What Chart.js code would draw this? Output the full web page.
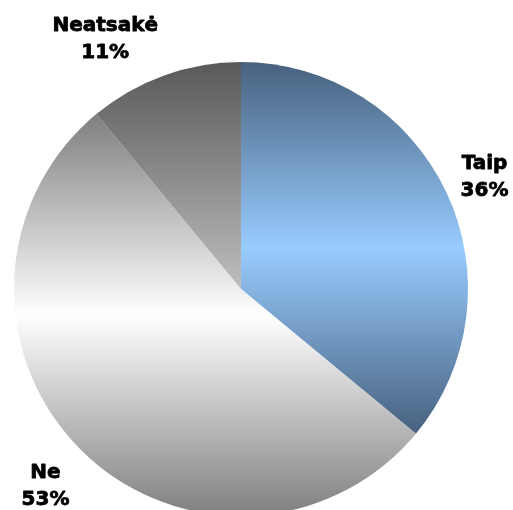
<!DOCTYPE html>
<html>
<head>
<meta charset="utf-8">
<script src="https://cdn.jsdelivr.net/npm/chart.js@4"></script>
<style>
  html, body { margin: 0; padding: 0; overflow: hidden; background: #fff; }
  #wrap { position: relative; width: 513px; height: 530px; }
</style>
</head>
<body>
<div id="wrap"><canvas id="pie"></canvas></div>
<script>
const labels = ["Taip", "Ne", "Neatsakė"];
const values = [36, 53, 11];

// top / middle / bottom shade of each slice's vertical gradient
const sliceShades = [
  ["#47617e", "#99ccff", "#47617e"],
  ["#7f7f7f", "#ffffff", "#7f7f7f"],
  ["#595959", "#8b8b8b", "#bebebe"],
];
// small nudges for the outside labels
const labelNudge = [[1, 1], [-6, 6], [-45, 1]];

// vertical extent of slice i inside the chart area
function sliceExtent(area, i) {
  const cx = (area.left + area.right) / 2;
  const cy = (area.top + area.bottom) / 2;
  const r = Math.min(area.right - area.left, area.bottom - area.top) / 2;
  const total = values.reduce((a, b) => a + b, 0);
  let a0 = -Math.PI / 2;
  for (let k = 0; k < i; k++) a0 += (values[k] / total) * 2 * Math.PI;
  const a1 = a0 + (values[i] / total) * 2 * Math.PI;
  const ys = [cy, cy + r * Math.sin(a0), cy + r * Math.sin(a1)];
  [-Math.PI / 2, Math.PI / 2, (3 * Math.PI) / 2].forEach((a) => {
    if (a > a0 && a < a1) ys.push(cy + r * Math.sin(a));
  });
  return [Math.min(...ys), Math.max(...ys)];
}

function sliceFill(context) {
  const chart = context.chart;
  const area = chart.chartArea;
  const i = context.dataIndex;
  if (!area) return sliceShades[i][1];
  const [y0, y1] = sliceExtent(area, i);
  const g = chart.ctx.createLinearGradient(0, y0, 0, y1);
  g.addColorStop(0, sliceShades[i][0]);
  g.addColorStop(0.5, sliceShades[i][1]);
  g.addColorStop(1, sliceShades[i][2]);
  return g;
}

const outsideLabels = {
  id: "outsideLabels",
  afterDatasetsDraw(chart) {
    const ctx = chart.ctx;
    const meta = chart.getDatasetMeta(0);
    ctx.save();
    ctx.font = "bold 20px 'DejaVu Sans'";
    ctx.fillStyle = "#000";
    ctx.strokeStyle = "#000";
    ctx.lineWidth = 0.8;
    ctx.lineJoin = "round";
    ctx.textAlign = "center";
    ctx.textBaseline = "alphabetic";
    meta.data.forEach((arc, i) => {
      const mid = (arc.startAngle + arc.endAngle) / 2;
      const dist = arc.outerRadius + 41;
      const x = arc.x + Math.cos(mid) * dist + labelNudge[i][0];
      const y = arc.y + Math.sin(mid) * dist + labelNudge[i][1];
      const lines = [[labels[i], y - 6.5], [values[i] + "%", y + 20.5]];
      lines.forEach(([t, ly]) => {
        ctx.fillText(t, x, ly);
        ctx.strokeText(t, x, ly);
      });
    });
    ctx.restore();
  },
};

new Chart(document.getElementById("pie"), {
  type: "pie",
  data: {
    labels: labels,
    datasets: [{
      data: values,
      backgroundColor: sliceFill,
      borderWidth: 0,
      hoverOffset: 0,
    }],
  },
  options: {
    responsive: true,
    maintainAspectRatio: false,
    animation: false,
    layout: { padding: { left: 14, right: 45, top: 62, bottom: 14 } },
    plugins: {
      legend: { display: false },
      tooltip: { enabled: false },
    },
  },
  plugins: [outsideLabels],
});
</script>
</body>
</html>
